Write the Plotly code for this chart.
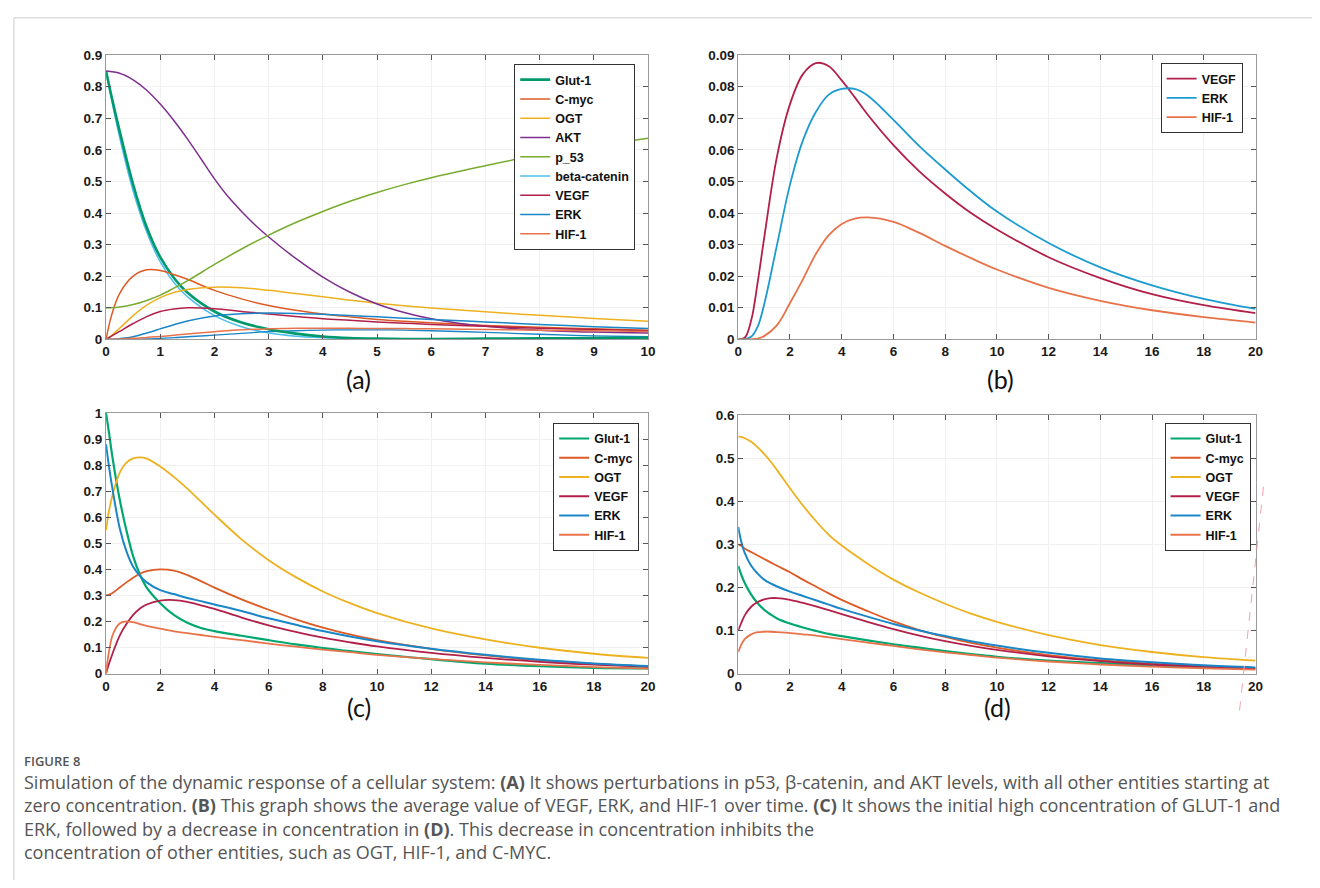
import plotly.graph_objects as go

W, H = 1320, 888

# ---------------- Panel (a) ----------------
t_a = [0, 0.1, 0.25, 0.5, 0.75, 1, 1.25, 1.5, 2, 2.5, 3, 3.5, 4, 4.5, 5, 5.5, 6, 7, 8, 9, 10]
a_glut = [0.85, 0.77, 0.66, 0.49, 0.355, 0.26, 0.195, 0.148, 0.088, 0.053, 0.032, 0.018, 0.009, 0.004, 0.002, 0.001, 0.001, 0.002, 0.003, 0.004, 0.005]
a_cmyc = [0, 0.075, 0.145, 0.2, 0.22, 0.218, 0.205, 0.19, 0.155, 0.128, 0.107, 0.092, 0.08, 0.071, 0.063, 0.057, 0.052, 0.044, 0.038, 0.033, 0.029]
a_ogt = [0, 0.012, 0.035, 0.075, 0.108, 0.132, 0.148, 0.158, 0.165, 0.163, 0.155, 0.145, 0.135, 0.124, 0.114, 0.106, 0.099, 0.087, 0.076, 0.066, 0.057]
t_akt = [0, 0.25, 0.5, 0.75, 1, 1.25, 1.5, 1.75, 2, 2.25, 2.5, 2.75, 3, 3.5, 4, 4.5, 5, 5.5, 6, 6.5, 7, 8, 9, 10]
a_akt = [0.85, 0.843, 0.822, 0.789, 0.745, 0.693, 0.635, 0.572, 0.508, 0.452, 0.405, 0.362, 0.324, 0.256, 0.197, 0.149, 0.112, 0.085, 0.065, 0.051, 0.041, 0.029, 0.023, 0.02]
a_p53 = [0.1, 0.1, 0.102, 0.11, 0.123, 0.14, 0.162, 0.185, 0.237, 0.286, 0.33, 0.37, 0.405, 0.437, 0.465, 0.49, 0.512, 0.55, 0.585, 0.613, 0.637]
a_beta = [0.85, 0.76, 0.64, 0.47, 0.34, 0.245, 0.18, 0.135, 0.075, 0.04, 0.02, 0.01, 0.005, 0.002, 0.001, 0, 0, 0, 0, 0, 0]
a_vegf = [0, 0.01, 0.025, 0.05, 0.072, 0.088, 0.096, 0.1, 0.097, 0.088, 0.08, 0.072, 0.065, 0.06, 0.055, 0.051, 0.047, 0.041, 0.035, 0.031, 0.027]
a_erk = [0, 0, 0.002, 0.008, 0.02, 0.033, 0.046, 0.058, 0.074, 0.081, 0.083, 0.082, 0.079, 0.075, 0.071, 0.067, 0.063, 0.055, 0.047, 0.04, 0.034]
a_hif = [0, 0, 0.001, 0.003, 0.006, 0.009, 0.013, 0.017, 0.024, 0.03, 0.033, 0.035, 0.035, 0.035, 0.034, 0.034, 0.033, 0.031, 0.029, 0.027, 0.025]
a_lowblue = [0, 0, 0, 0, 0.001, 0.003, 0.005, 0.008, 0.013, 0.019, 0.024, 0.027, 0.029, 0.03, 0.03, 0.029, 0.027, 0.022, 0.016, 0.011, 0.008]

# ---------------- Panel (b) ----------------
t_b = [0, 0.25, 0.5, 0.75, 1, 1.5, 2, 2.5, 3, 3.5, 4, 4.5, 5, 6, 7, 8, 9, 10, 12, 14, 16, 18, 20]
b_vegf = [0, 0.0005, 0.006, 0.018, 0.032, 0.058, 0.0745, 0.084, 0.0875, 0.0865, 0.082, 0.0767, 0.0712, 0.0615, 0.0532, 0.0462, 0.040, 0.0348, 0.026, 0.0194, 0.0143, 0.0108, 0.0083]
b_erk = [0, 0, 0.0008, 0.004, 0.011, 0.03, 0.049, 0.063, 0.072, 0.0775, 0.0793, 0.0793, 0.0772, 0.0695, 0.0612, 0.0538, 0.0468, 0.0405, 0.0305, 0.0228, 0.0171, 0.0128, 0.0096]
b_hif = [0, 0, 0, 0.0002, 0.001, 0.0045, 0.0115, 0.019, 0.027, 0.033, 0.0365, 0.0382, 0.0386, 0.0372, 0.0337, 0.0296, 0.0257, 0.0221, 0.0163, 0.0122, 0.0092, 0.007, 0.0053]

# ---------------- Panel (c) ----------------
t_c = [0, 0.1, 0.25, 0.5, 0.75, 1, 1.25, 1.5, 2, 2.5, 3, 3.5, 4, 5, 6, 7, 8, 9, 10, 12, 14, 16, 18, 20]
c_glut = [1.0, 0.93, 0.82, 0.67, 0.55, 0.45, 0.38, 0.33, 0.27, 0.225, 0.195, 0.175, 0.163, 0.145, 0.128, 0.112, 0.098, 0.086, 0.075, 0.055, 0.038, 0.028, 0.022, 0.02]
c_cmyc = [0.30, 0.302, 0.31, 0.33, 0.35, 0.368, 0.383, 0.393, 0.40, 0.395, 0.378, 0.355, 0.33, 0.285, 0.245, 0.208, 0.176, 0.15, 0.128, 0.095, 0.07, 0.051, 0.037, 0.027]
c_ogt = [0.55, 0.62, 0.69, 0.77, 0.81, 0.826, 0.83, 0.825, 0.795, 0.755, 0.71, 0.66, 0.61, 0.515, 0.435, 0.37, 0.315, 0.27, 0.232, 0.173, 0.131, 0.099, 0.076, 0.06]
c_vegf = [0, 0.035, 0.08, 0.145, 0.19, 0.225, 0.25, 0.265, 0.28, 0.282, 0.275, 0.262, 0.248, 0.215, 0.185, 0.16, 0.138, 0.12, 0.104, 0.079, 0.06, 0.045, 0.034, 0.026]
c_erk = [0.88, 0.8, 0.70, 0.56, 0.47, 0.41, 0.375, 0.35, 0.32, 0.305, 0.29, 0.278, 0.265, 0.24, 0.212, 0.187, 0.163, 0.142, 0.124, 0.095, 0.072, 0.053, 0.039, 0.029]
c_hif = [0, 0.08, 0.15, 0.192, 0.2, 0.197, 0.19, 0.183, 0.172, 0.162, 0.155, 0.148, 0.141, 0.128, 0.115, 0.103, 0.092, 0.082, 0.072, 0.056, 0.043, 0.033, 0.025, 0.019]

# ---------------- Panel (d) ----------------
t_d = [0, 0.1, 0.25, 0.5, 0.75, 1, 1.25, 1.5, 2, 2.5, 3, 3.5, 4, 5, 6, 7, 8, 9, 10, 12, 14, 16, 18, 20]
d_glut = [0.25, 0.232, 0.21, 0.183, 0.163, 0.148, 0.137, 0.128, 0.116, 0.107, 0.099, 0.092, 0.087, 0.077, 0.068, 0.06, 0.052, 0.045, 0.039, 0.03, 0.024, 0.019, 0.015, 0.012]
d_cmyc = [0.30, 0.297, 0.29, 0.282, 0.274, 0.266, 0.258, 0.25, 0.235, 0.218, 0.202, 0.186, 0.171, 0.145, 0.121, 0.101, 0.085, 0.071, 0.06, 0.043, 0.031, 0.023, 0.017, 0.012]
d_ogt = [0.55, 0.549, 0.546, 0.538, 0.525, 0.51, 0.492, 0.472, 0.43, 0.39, 0.354, 0.322, 0.297, 0.255, 0.218, 0.188, 0.162, 0.139, 0.12, 0.089, 0.066, 0.05, 0.038, 0.03]
d_vegf = [0.10, 0.115, 0.135, 0.155, 0.166, 0.172, 0.175, 0.175, 0.171, 0.164, 0.156, 0.147, 0.138, 0.12, 0.103, 0.088, 0.075, 0.064, 0.055, 0.04, 0.029, 0.021, 0.016, 0.012]
d_erk = [0.34, 0.31, 0.28, 0.25, 0.232, 0.218, 0.209, 0.202, 0.19, 0.18, 0.17, 0.16, 0.15, 0.132, 0.115, 0.1, 0.087, 0.075, 0.065, 0.048, 0.035, 0.026, 0.019, 0.014]
d_hif = [0.05, 0.065, 0.08, 0.091, 0.096, 0.097, 0.097, 0.096, 0.094, 0.091, 0.088, 0.084, 0.08, 0.072, 0.064, 0.056, 0.049, 0.043, 0.037, 0.028, 0.021, 0.016, 0.012, 0.009]

# tick values
xt_a = [0, 1, 2, 3, 4, 5, 6, 7, 8, 9, 10]
yt_a = [0, 0.1, 0.2, 0.3, 0.4, 0.5, 0.6, 0.7, 0.8, 0.9]
xt_20 = [0, 2, 4, 6, 8, 10, 12, 14, 16, 18, 20]
yt_b = [0, 0.01, 0.02, 0.03, 0.04, 0.05, 0.06, 0.07, 0.08, 0.09]
yt_c = [0, 0.1, 0.2, 0.3, 0.4, 0.5, 0.6, 0.7, 0.8, 0.9, 1]
yt_d = [0, 0.1, 0.2, 0.3, 0.4, 0.5, 0.6]

panel_labels = ["(a)", "(b)", "(c)", "(d)"]
caption_title = "FIGURE 8"
caption_lines = [
    "Simulation of the dynamic response of a cellular system: <b>(A)</b> It shows perturbations in p53, β-catenin, and AKT levels, with all other entities starting at",
    "zero concentration. <b>(B)</b> This graph shows the average value of VEGF, ERK, and HIF-1 over time. <b>(C)</b> It shows the initial high concentration of GLUT-1 and",
    "ERK, followed by a decrease in concentration in <b>(D)</b>. This decrease in concentration inhibits the",
    "concentration of other entities, such as OGT, HIF-1, and C-MYC.",
]

# colours
C_GLUT = "#00996B"
C_CMYC = "#DD5A24"
C_OGT = "#EDB120"
C_AKT = "#7E2F8E"
C_P53 = "#77AC30"
C_BETA = "#4DBEEE"
C_VEGF = "#B2204A"
C_ERK = "#1A86C7"
C_HIF = "#E8734A"

fig = go.Figure()


def add(x, y, name, color, xa, ya, leg, width=1.5, rank=None, show=True):
    fig.add_trace(go.Scatter(
        x=x, y=y, name=name, mode="lines",
        line=dict(color=color, width=width, shape="spline", smoothing=1.0),
        xaxis=xa, yaxis=ya, legend=leg, showlegend=show,
        legendrank=rank if rank is not None else 1000,
    ))


# (a)
add(t_a, a_beta, "beta-catenin", C_BETA, "x", "y", "legend", 1.5, 6)
add(t_a, a_lowblue, "ERK", C_ERK, "x", "y", "legend", 1.3, 99, show=False)
add(t_a, a_glut, "Glut-1", C_GLUT, "x", "y", "legend", 2.6, 1)
add(t_a, a_cmyc, "C-myc", C_CMYC, "x", "y", "legend", 1.5, 2)
add(t_a, a_ogt, "OGT", C_OGT, "x", "y", "legend", 1.5, 3)
add(t_akt, a_akt, "AKT", C_AKT, "x", "y", "legend", 1.5, 4)
add(t_a, a_p53, "p_53", C_P53, "x", "y", "legend", 1.5, 5)
add(t_a, a_vegf, "VEGF", C_VEGF, "x", "y", "legend", 1.5, 7)
add(t_a, a_erk, "ERK", C_ERK, "x", "y", "legend", 1.5, 8)
add(t_a, a_hif, "HIF-1", C_HIF, "x", "y", "legend", 1.5, 9)

# (b)
add(t_b, b_vegf, "VEGF", C_VEGF, "x2", "y2", "legend2", 1.8, 1)
add(t_b, b_erk, "ERK", "#1B9BD0", "x2", "y2", "legend2", 1.8, 2)
add(t_b, b_hif, "HIF-1", C_HIF, "x2", "y2", "legend2", 1.8, 3)

# (c)
add(t_c, c_glut, "Glut-1", "#00A870", "x3", "y3", "legend3", 2.2, 1)
add(t_c, c_cmyc, "C-myc", C_CMYC, "x3", "y3", "legend3", 1.8, 2)
add(t_c, c_ogt, "OGT", C_OGT, "x3", "y3", "legend3", 1.8, 3)
add(t_c, c_vegf, "VEGF", C_VEGF, "x3", "y3", "legend3", 1.8, 4)
add(t_c, c_erk, "ERK", C_ERK, "x3", "y3", "legend3", 2.0, 5)
add(t_c, c_hif, "HIF-1", C_HIF, "x3", "y3", "legend3", 1.8, 6)

# (d)
add(t_d, d_glut, "Glut-1", "#00A870", "x4", "y4", "legend4", 2.2, 1)
add(t_d, d_cmyc, "C-myc", C_CMYC, "x4", "y4", "legend4", 1.8, 2)
add(t_d, d_ogt, "OGT", C_OGT, "x4", "y4", "legend4", 1.8, 3)
add(t_d, d_vegf, "VEGF", C_VEGF, "x4", "y4", "legend4", 1.8, 4)
add(t_d, d_erk, "ERK", C_ERK, "x4", "y4", "legend4", 2.0, 5)
add(t_d, d_hif, "HIF-1", C_HIF, "x4", "y4", "legend4", 1.8, 6)

TICKFONT = dict(family="Liberation Sans, Arial, sans-serif", size=13.5, color="#1a1a1a", weight="bold")


def ax(domain, rng, tickvals, anchor):
    return dict(
        domain=domain, range=rng, tickvals=tickvals, anchor=anchor,
        showline=True, linecolor="#9a9a9a", linewidth=1, mirror="ticks",
        ticks="inside", ticklen=5, tickcolor="#555555", tickwidth=1,
        showgrid=True, gridcolor="#f0f0f0", gridwidth=1, zeroline=False,
        tickfont=TICKFONT, fixedrange=True,
    )


def px_x(p):
    return p / W


def px_y(p):
    return 1 - p / H


xa_dom = [px_x(103), px_x(650)]
xb_dom = [px_x(741), px_x(1263)]
ytop_dom = [px_y(338), px_y(49)]
ybot_dom = [px_y(678), px_y(413)]
yd_dom = [px_y(678), px_y(415)]

LEGFONT = dict(family="Liberation Sans, Arial, sans-serif", size=12.5, color="#111111", weight="bold")


def leg(x, y):
    return dict(x=x, y=y, xanchor="right", yanchor="top", xref="paper", yref="paper",
                bgcolor="white", bordercolor="#333333", borderwidth=1, font=LEGFONT,
                tracegroupgap=0, itemclick=False, itemdoubleclick=False)


fig.update_layout(
    width=W, height=H, margin=dict(l=0, r=0, t=0, b=0),
    paper_bgcolor="white", plot_bgcolor="white",
    xaxis=ax(xa_dom, [0, 10], xt_a, "y"),
    yaxis=ax(ytop_dom, [0, 0.9], yt_a, "x"),
    xaxis2=ax(xb_dom, [0, 20], xt_20, "y2"),
    yaxis2=ax(ytop_dom, [0, 0.09], yt_b, "x2"),
    xaxis3=ax(xa_dom, [0, 20], xt_20, "y3"),
    yaxis3=ax(ybot_dom, [0, 1], yt_c, "x3"),
    xaxis4=ax(xb_dom, [0, 20], xt_20, "y4"),
    yaxis4=ax(yd_dom, [0, 0.6], yt_d, "x4"),
    legend=leg(px_x(637), px_y(58)),
    legend2=leg(px_x(1250), px_y(57)),
    legend3=leg(px_x(641), px_y(423)),
    legend4=leg(px_x(1258), px_y(423)),
)

# panel labels
lab_pos = [(358, 378), (1006, 378), (358, 712), (1003, 712)]
for txt, (lx, ly) in zip(panel_labels, lab_pos):
    fig.add_annotation(text=txt, x=px_x(lx), y=px_y(ly), xref="paper", yref="paper",
                       showarrow=False, xanchor="center", yanchor="middle",
                       font=dict(family="Lato, Open Sans, sans-serif", size=25, color="#111111"))

# caption
fig.add_annotation(text=caption_title, x=px_x(18), y=px_y(767), xref="paper", yref="paper",
                   showarrow=False, xanchor="left", yanchor="middle",
                   font=dict(family="Open Sans, sans-serif", size=13, color="#555555", weight=600))
fig.add_annotation(text="<br>".join(caption_lines), x=px_x(18), y=px_y(824), xref="paper", yref="paper",
                   showarrow=False, xanchor="left", yanchor="middle", align="left",
                   font=dict(family="Open Sans, sans-serif", size=18, color="#555555"))

# outer frame lines
fig.add_shape(type="line", xref="paper", yref="paper", x0=px_x(10), x1=1, y0=px_y(11), y1=px_y(11),
              line=dict(color="#cccccc", width=1))
fig.add_shape(type="line", xref="paper", yref="paper", x0=px_x(10), x1=px_x(10), y0=px_y(11), y1=0,
              line=dict(color="#cccccc", width=1))
# faint pink dashed mark at right of panel (d)
fig.add_shape(type="line", xref="paper", yref="paper", x0=px_x(1271), x1=px_x(1246), y0=px_y(488), y1=px_y(724),
              line=dict(color="#f4a0a8", width=1, dash="dash"))

fig.write_html(
    "out.html",
    config={"displayModeBar": False},
    post_script="document.body.style.margin='0';document.body.style.padding='0';document.body.style.overflow='hidden';",
)
